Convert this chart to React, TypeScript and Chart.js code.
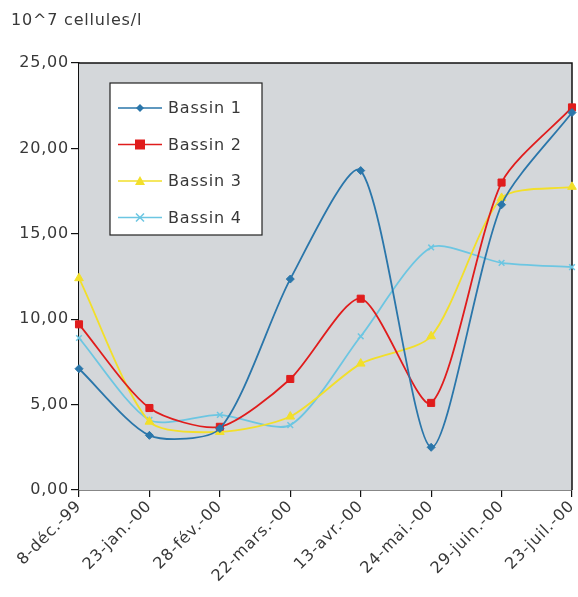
import React, { useEffect, useRef } from "react";
import { Chart, registerables } from "chart.js";

Chart.register(...registerables);

const categories = ["8-déc.-99", "23-jan.-00", "28-fév.-00", "22-mars.-00", "13-avr.-00", "24-mai.-00", "29-juin.-00", "23-juil.-00"];
const bassin1 = [7.1, 3.2, 3.6, 12.35, 18.7, 2.5, 16.7, 22.1];
const bassin2 = [9.7, 4.8, 3.7, 6.5, 11.2, 5.1, 18.0, 22.4];
const bassin3 = [12.4, 4.0, 3.4, 4.3, 7.4, 9.0, 17.1, 17.75];
const bassin4 = [8.9, 4.1, 4.4, 3.8, 9.0, 14.2, 13.3, 13.05];
const seriesNames = ["Bassin 1", "Bassin 2", "Bassin 3", "Bassin 4"];
const yTicks = [0, 5, 10, 15, 20, 25];
const unitLabel = "10^7 cellules/l";

const colors = ["#2a76aa", "#e01c1c", "#f2df2a", "#6cc6e2"];
const styles = ["rectRot", "rect", "triangle", "crossRot"];
const radii = [4, 5, 5, 4];

const FONT = "'DejaVu Sans', sans-serif";
const SPACING = "0.8px";
const FSIZE = 16;

function drawMarker(ctx: CanvasRenderingContext2D, style: string, x: number, y: number, r: number, color: string) {
  ctx.save();
  ctx.fillStyle = color;
  ctx.strokeStyle = color;
  ctx.lineWidth = 1.5;
  ctx.beginPath();
  if (style === "rectRot") {
    ctx.moveTo(x, y - r);
    ctx.lineTo(x + r, y);
    ctx.lineTo(x, y + r);
    ctx.lineTo(x - r, y);
    ctx.closePath();
    ctx.fill();
  } else if (style === "rect") {
    ctx.rect(x - r, y - r, 2 * r, 2 * r);
    ctx.fill();
  } else if (style === "triangle") {
    ctx.moveTo(x, y - r);
    ctx.lineTo(x + r, y + r * 0.8);
    ctx.lineTo(x - r, y + r * 0.8);
    ctx.closePath();
    ctx.fill();
  } else {
    ctx.moveTo(x - r, y - r);
    ctx.lineTo(x + r, y + r);
    ctx.moveTo(x + r, y - r);
    ctx.lineTo(x - r, y + r);
    ctx.stroke();
  }
  ctx.restore();
}

const framePlugin = {
  id: "frame",
  beforeUpdate(chart: any) {
    (chart.ctx as any).letterSpacing = SPACING;
  },
  beforeDraw(chart: any) {
    (chart.ctx as any).letterSpacing = SPACING;
  },
  beforeDatasetsDraw(chart: any) {
    const { ctx, chartArea } = chart;
    ctx.save();
    ctx.fillStyle = "#d4d7da";
    ctx.fillRect(chartArea.left, chartArea.top, chartArea.right - chartArea.left, chartArea.bottom - chartArea.top);
    ctx.strokeStyle = "#111";
    ctx.lineWidth = 1.5;
    ctx.beginPath();
    ctx.moveTo(chartArea.left, chartArea.top);
    ctx.lineTo(chartArea.right, chartArea.top);
    ctx.lineTo(chartArea.right, chartArea.bottom);
    ctx.stroke();
    ctx.restore();
  },
  afterDraw(chart: any) {
    const { ctx, chartArea } = chart;
    ctx.save();
    (ctx as any).letterSpacing = SPACING;
    // unit label
    ctx.fillStyle = "#383838";
    ctx.font = `${FSIZE}px ${FONT}`;
    ctx.textBaseline = "alphabetic";
    ctx.textAlign = "left";
    ctx.fillText(unitLabel, 11, 25);
    // legend box
    const bx = chartArea.left + 31;
    const by = chartArea.top + 20;
    const bw = 152;
    const bh = 152;
    ctx.fillStyle = "#ffffff";
    ctx.fillRect(bx, by, bw, bh);
    ctx.strokeStyle = "#222";
    ctx.lineWidth = 1.2;
    ctx.strokeRect(bx, by, bw, bh);
    ctx.font = `${FSIZE}px ${FONT}`;
    ctx.textBaseline = "middle";
    seriesNames.forEach((name, i) => {
      const y = by + 25 + i * 36.5;
      ctx.strokeStyle = colors[i];
      ctx.lineWidth = 1.5;
      ctx.beginPath();
      ctx.moveTo(bx + 8, y);
      ctx.lineTo(bx + 52, y);
      ctx.stroke();
      drawMarker(ctx, styles[i], bx + 30, y, radii[i], colors[i]);
      ctx.fillStyle = "#383838";
      ctx.fillText(name, bx + 58, y + 1);
    });
    ctx.restore();
  },
};

export default function App() {
  const ref = useRef<HTMLCanvasElement | null>(null);
  useEffect(() => {
    if (!ref.current) return;
    const data = [bassin1, bassin2, bassin3, bassin4];
    const chart = new Chart(ref.current, {
      type: "line",
      data: {
        labels: categories,
        datasets: data.map((d, i) => ({
          label: seriesNames[i],
          data: d,
          borderColor: colors[i],
          backgroundColor: colors[i],
          borderWidth: 1.8,
          pointStyle: styles[i] as any,
          pointRadius: radii[i],
          pointBorderWidth: i === 3 ? 1.5 : 1,
          tension: 0.25,
          fill: false,
          clip: false as any,
        })),
      },
      options: {
        animation: false,
        responsive: false,
        maintainAspectRatio: false,
        layout: { padding: { top: 63, right: 5, left: 0, bottom: 0 } },
        plugins: { legend: { display: false }, tooltip: { enabled: false } },
        scales: {
          x: {
            offset: false,
            grid: { display: true, drawOnChartArea: false, tickLength: 7, color: "#111", lineWidth: 1.2 },
            border: { display: true, color: "#111", width: 1.5 },
            ticks: {
              autoSkip: false,
              minRotation: 45,
              maxRotation: 45,
              color: "#383838",
              font: { family: FONT, size: FSIZE },
              padding: 0,
            },
            afterFit(scale: any) {
              scale.height = 107;
              scale.paddingLeft = 0;
              scale.paddingRight = 0;
            },
          },
          y: {
            min: 0,
            max: 25,
            afterBuildTicks(scale: any) {
              scale.ticks = yTicks.map((v) => ({ value: v }));
            },
            grid: { display: true, drawOnChartArea: false, tickLength: 8, color: "#111", lineWidth: 1.2 },
            border: { display: true, color: "#111", width: 1.5 },
            ticks: {
              color: "#383838",
              font: { family: FONT, size: FSIZE },
              padding: 2,
              callback: (v: any) => Number(v).toFixed(2).replace(".", ","),
            },
            afterFit(scale: any) {
              scale.width = 79;
            },
          },
        },
      },
      plugins: [framePlugin],
    });
    return () => chart.destroy();
  }, []);
  return (
    <div style={{ position: "absolute", left: 0, top: 0, width: 578, height: 597, background: "#fff" }}>
      <canvas ref={ref} width={578} height={597} style={{ width: 578, height: 597, display: "block" }} />
    </div>
  );
}
